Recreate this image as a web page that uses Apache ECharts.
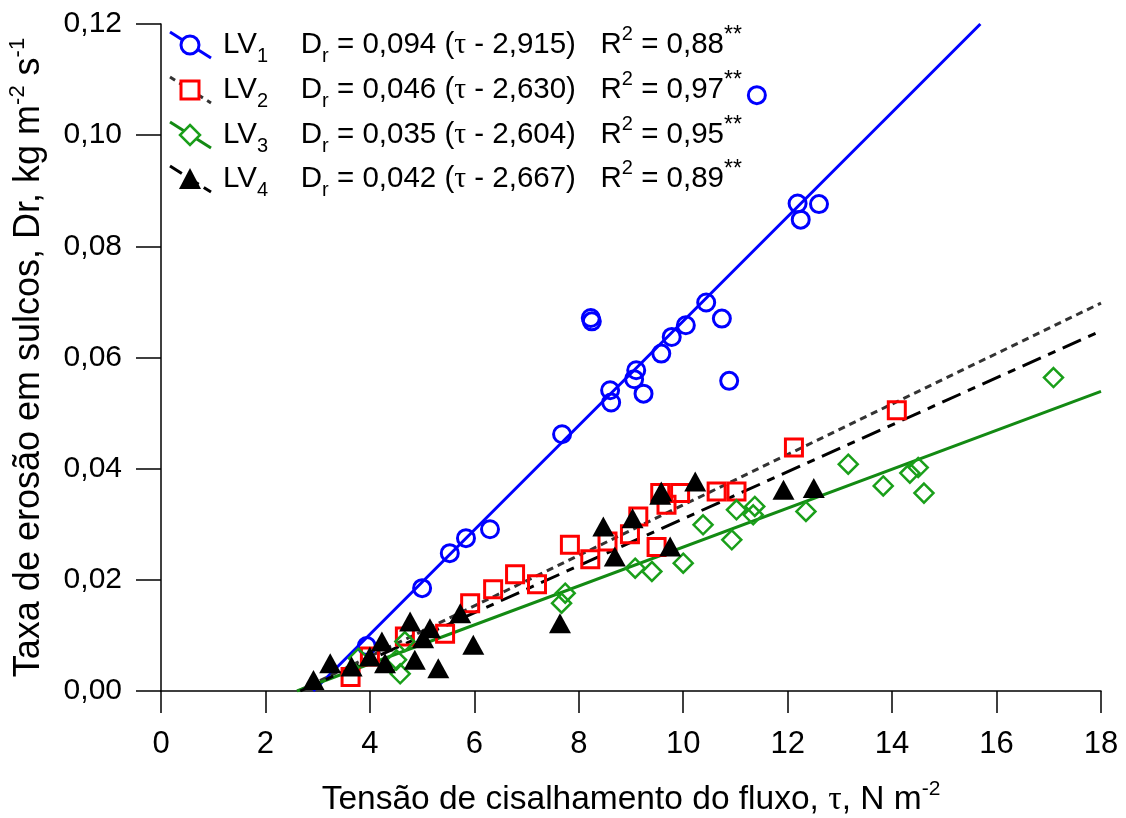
<!DOCTYPE html>
<html>
<head>
<meta charset="utf-8">
<script src="https://cdn.jsdelivr.net/npm/echarts@6/dist/echarts.min.js"></script>
<style>
  html, body { margin: 0; padding: 0; background: #fff; }
  #chart { width: 1126px; height: 818px; }
</style>
</head>
<body>
<div id="chart"></div>
<script>
// tau (N m-2), Dr (kg m-2 s-1)
const lv1 = [[3.94, 0.0081], [5.0, 0.0185], [5.53, 0.0248], [5.84, 0.0275], [6.3, 0.0291],
  [7.68, 0.0462], [8.23, 0.0671], [8.25, 0.0665], [8.6, 0.0541], [8.62, 0.0519],
  [9.24, 0.0535], [9.1, 0.0577], [9.06, 0.0561], [9.58, 0.0607], [9.78, 0.0637],
  [10.05, 0.0658], [10.44, 0.0699], [10.74, 0.067], [10.88, 0.0558], [12.19, 0.0877],
  [12.25, 0.0848], [12.6, 0.0876], [11.41, 0.1072]]
const lv2 = [[3.63, 0.0025], [4.0, 0.0062], [4.67, 0.0098], [5.44, 0.0103], [5.92, 0.0158],
  [6.36, 0.0183], [6.78, 0.021], [7.2, 0.0192], [7.83, 0.0263], [8.22, 0.0237],
  [8.55, 0.0269], [8.98, 0.0282], [9.14, 0.0314], [9.49, 0.0259], [9.56, 0.0356],
  [9.68, 0.0335], [9.94, 0.0356], [10.64, 0.0359], [11.02, 0.0359], [12.12, 0.0438],
  [14.09, 0.0505]]
const lv3 = [[3.78, 0.0059], [4.51, 0.0056], [4.58, 0.0031], [4.67, 0.0089], [7.67, 0.0158],
  [7.74, 0.0176], [9.08, 0.0221], [9.4, 0.0215], [10.0, 0.023], [10.38, 0.0299],
  [10.93, 0.0272], [11.02, 0.0326], [11.34, 0.0317], [11.37, 0.0332], [12.35, 0.0323],
  [13.16, 0.0408], [13.83, 0.0369], [14.34, 0.0392], [14.5, 0.0402], [14.61, 0.0356],
  [17.09, 0.0564]]
const lv4 = [[2.92, 0.002], [3.24, 0.005], [3.65, 0.0044], [4.0, 0.0062], [4.23, 0.0089],
  [4.29, 0.005], [4.77, 0.0125], [4.86, 0.0056], [5.02, 0.0095], [5.15, 0.0113],
  [5.31, 0.0041], [5.73, 0.014], [5.98, 0.0083], [7.64, 0.0122], [8.47, 0.0296],
  [8.69, 0.0242], [9.03, 0.0311], [9.56, 0.0353], [9.58, 0.0359], [9.75, 0.026],
  [10.23, 0.0377], [11.92, 0.0362], [12.5, 0.0365]]

// fitted lines (start at tau_c, end where they leave the plot)
const fit1 = [[2.915, 0], [15.69, 0.12]]
const fit2 = [[2.63, 0], [18, 0.0698]]
const fit3 = [[2.604, 0], [18, 0.0539]]
const fit4 = [[2.667, 0], [18, 0.0648]]

const legendRows = [
  ['1', '0,094', '2,915', '0,88'],
  ['2', '0,046', '2,630', '0,97'],
  ['3', '0,035', '2,604', '0,95'],
  ['4', '0,042', '2,667', '0,89']
]

const FONT = 'Liberation Sans, Arial, sans-serif'
const SERIF = 'Liberation Serif, Times New Roman, serif'
const blue = '#0000ff'
const red = '#ff0000'
const green = '#138a13'
const greenMk = '#1a9f1a'

const richText = {
  t: { fontSize: 29.5, fontFamily: FONT, color: '#000', lineHeight: 42 },
  g: { fontSize: 29.5, fontFamily: SERIF, color: '#000', lineHeight: 42 },
  s: { fontSize: 20, fontFamily: FONT, color: '#000', lineHeight: 20, verticalAlign: 'bottom' },
  p: { fontSize: 20, fontFamily: FONT, color: '#000', lineHeight: 20, verticalAlign: 'top' },
  q: { fontSize: 23, fontFamily: FONT, color: '#000', lineHeight: 26, verticalAlign: 'top' }
}

const chart = echarts.init(document.getElementById('chart'))

// legend drawn by hand: slanted line + marker + equation
const rowY = [45, 90, 135, 179]
const graphic = []
const iconStyles = [
  { stroke: blue, lineWidth: 3 },
  { stroke: '#333', lineWidth: 3, lineDash: [6, 5] },
  { stroke: green, lineWidth: 3 },
  { stroke: '#000', lineWidth: 3, lineDash: [14, 6] }
]
rowY.forEach((cy, i) => {
  graphic.push({ type: 'line', shape: { x1: 170, y1: cy - 13, x2: 211, y2: cy + 13 }, style: iconStyles[i] })
  if (i === 0) graphic.push({ type: 'circle', shape: { cx: 190, cy: cy, r: 9 }, style: { fill: '#fff', stroke: blue, lineWidth: 3 } })
  if (i === 1) graphic.push({ type: 'rect', shape: { x: 181, y: cy - 9, width: 18, height: 18 }, style: { fill: '#fff', stroke: red, lineWidth: 3 } })
  if (i === 2) graphic.push({ type: 'polygon', shape: { points: [[190, cy - 10], [200, cy], [190, cy + 10], [180, cy]] }, style: { fill: '#fff', stroke: greenMk, lineWidth: 2.5 } })
  if (i === 3) graphic.push({ type: 'polygon', shape: { points: [[190, cy - 11], [201, cy + 10], [179, cy + 10]] }, style: { fill: '#000' } })
  const r = legendRows[i]
  graphic.push({
    type: 'text',
    x: 223,
    y: cy,
    style: {
      text: '{t|LV}{s|' + r[0] + '}{t|    D}{s|r}{t| = ' + r[1] + ' (}{g|τ}{t| - ' + r[2] + ')   R}{p|2}{t| = ' + r[3] + '}{q|**}',
      rich: richText,
      verticalAlign: 'middle',
      align: 'left'
    }
  })
})

chart.setOption({
  animation: false,
  backgroundColor: '#fff',
  grid: { left: 161, right: 25, top: 24, bottom: 127, containLabel: false, outerBoundsMode: 'none' },
  xAxis: {
    type: 'value',
    min: 0,
    max: 18,
    interval: 2,
    name: '{a|Tensão de cisalhamento do fluxo, }{g|τ}{a|, N m}{p|-2}',
    nameLocation: 'middle',
    nameGap: 88,
    nameTextStyle: {
      rich: {
        a: { fontSize: 33.5, fontFamily: FONT, color: '#000', lineHeight: 42 },
        g: { fontSize: 33.5, fontFamily: SERIF, color: '#000', lineHeight: 42 },
        p: { fontSize: 21, fontFamily: FONT, color: '#000', lineHeight: 21, verticalAlign: 'top' }
      }
    },
    axisLine: { lineStyle: { color: '#000', width: 1.5 } },
    axisTick: { inside: false, length: 22, lineStyle: { color: '#000', width: 1.5 } },
    axisLabel: { margin: 38, fontSize: 31, fontFamily: FONT, color: '#000' },
    splitLine: { show: false }
  },
  yAxis: {
    type: 'value',
    min: 0,
    max: 0.12,
    interval: 0.02,
    name: '{a|Taxa de erosão em sulcos, Dr, kg m}{p|-2}{a| s}{p|-1}',
    nameLocation: 'middle',
    nameGap: 110,
    nameTextStyle: {
      rich: {
        a: { fontSize: 36, fontFamily: FONT, color: '#000', lineHeight: 44 },
        p: { fontSize: 22, fontFamily: FONT, color: '#000', lineHeight: 22, verticalAlign: 'top' }
      }
    },
    axisLine: { lineStyle: { color: '#000', width: 1.5 } },
    axisTick: { inside: false, length: 25, lineStyle: { color: '#000', width: 1.5 } },
    axisLabel: {
      margin: 39,
      fontSize: 30,
      fontFamily: FONT,
      color: '#000',
      formatter: v => v.toFixed(2).replace('.', ',')
    },
    splitLine: { show: false }
  },
  graphic: graphic,
  series: [
    { name: 'fit LV1', type: 'line', data: fit1, showSymbol: false, z: 1, lineStyle: { color: blue, width: 3 } },
    { name: 'fit LV2', type: 'line', data: fit2, showSymbol: false, z: 1, lineStyle: { color: '#333', width: 3, type: [7, 5] } },
    { name: 'fit LV3', type: 'line', data: fit3, showSymbol: false, z: 1, lineStyle: { color: green, width: 3 } },
    { name: 'fit LV4', type: 'line', data: fit4, showSymbol: false, z: 1, lineStyle: { color: '#000', width: 3, type: [20, 8, 8, 8] } },
    { name: 'LV1', type: 'scatter', data: lv1, symbol: 'circle', symbolSize: 17, z: 3,
      itemStyle: { color: 'transparent', borderColor: blue, borderWidth: 3, opacity: 1 } },
    { name: 'LV2', type: 'scatter', data: lv2, symbol: 'rect', symbolSize: 17, z: 3,
      itemStyle: { color: 'transparent', borderColor: red, borderWidth: 3, opacity: 1 } },
    { name: 'LV3', type: 'scatter', data: lv3, symbol: 'diamond', symbolSize: 19, z: 3,
      itemStyle: { color: 'transparent', borderColor: greenMk, borderWidth: 2.5, opacity: 1 } },
    { name: 'LV4', type: 'scatter', data: lv4, symbol: 'triangle', symbolSize: [22, 20], z: 4,
      itemStyle: { color: '#000', opacity: 1 } }
  ]
})
</script>
</body>
</html>
